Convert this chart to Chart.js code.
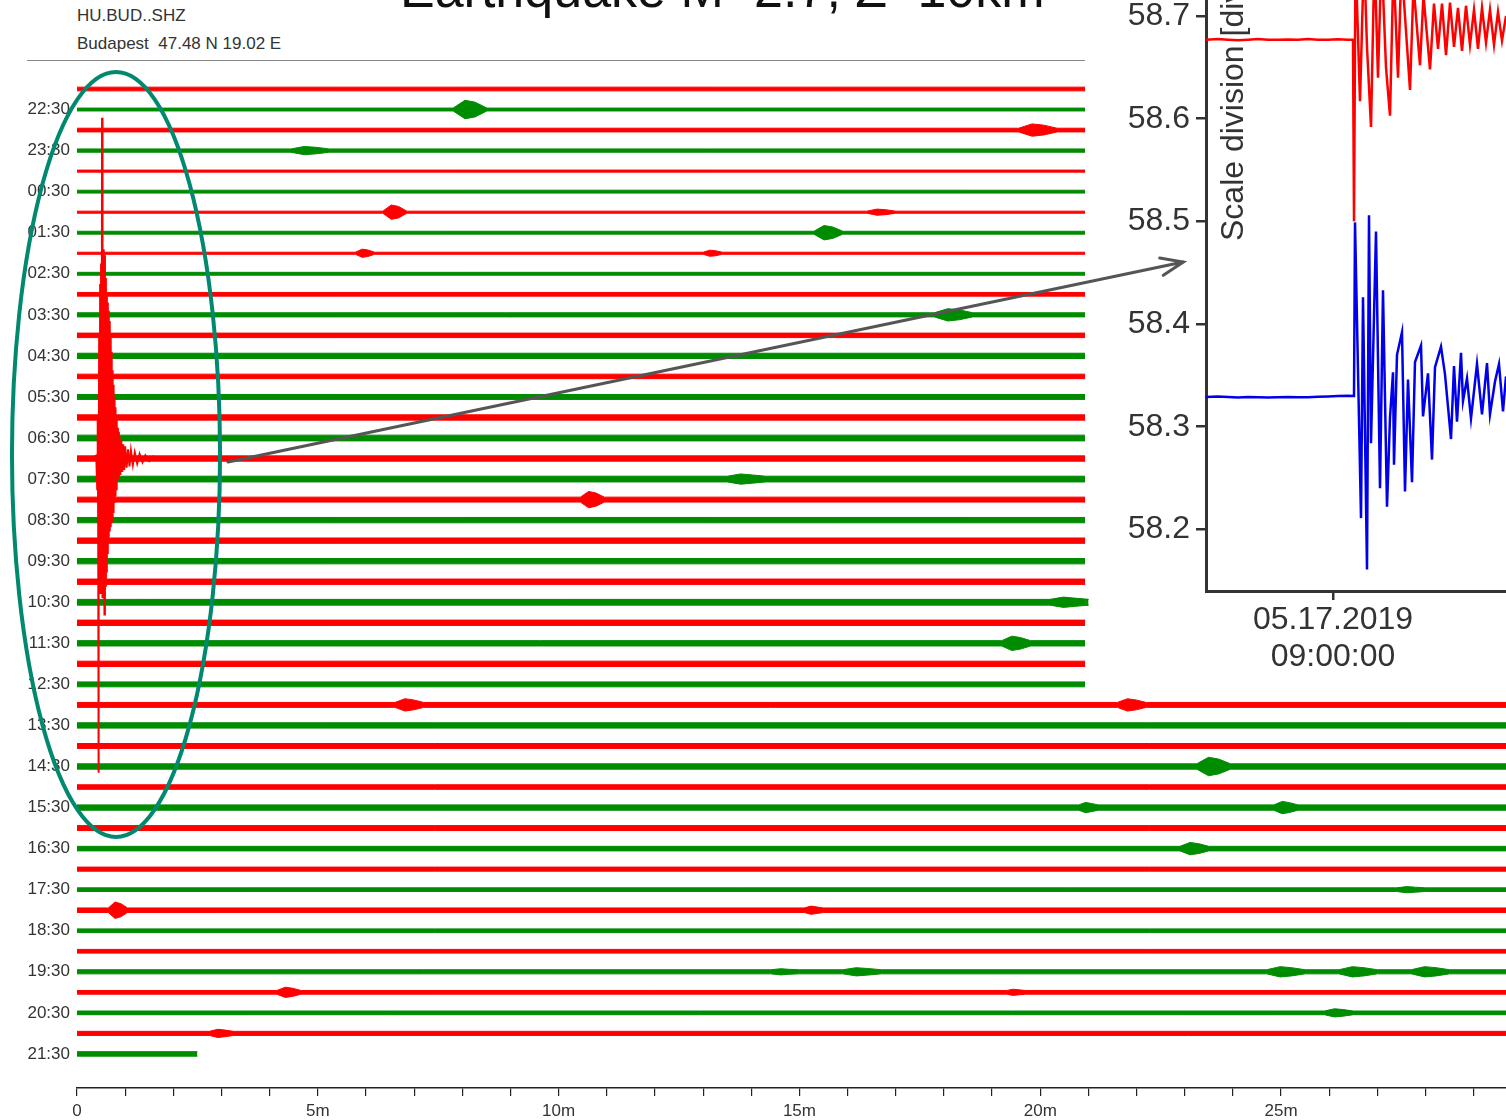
<!DOCTYPE html>
<html>
<head>
<meta charset="utf-8">
<script src="https://cdn.jsdelivr.net/npm/chart.js@4.4.1/dist/chart.umd.min.js"></script>
<style>
  body { margin: 0; background: #fff; width: 1506px; height: 1120px; overflow: hidden; position: relative;
         font-family: "Liberation Sans", Arial, sans-serif; }
  canvas { position: absolute; }
  #heli { left: 0; top: 0; }
  #inset { left: 1100px; top: 0; }
  .title { position: absolute; left: 400px; top: -37px; font-size: 52px; line-height: 52px; color: #111; white-space: nowrap; }
  .hdr { position: absolute; left: 77px; font-size: 17px; line-height: 17px; color: #333; white-space: nowrap; }
  .rule { position: absolute; left: 27px; top: 60px; width: 1058px; height: 1px; background: #888; }
  .ytitle { position: absolute; left: 1213px; top: 241px; font-size: 32px; line-height: 38px; color: #333;
            white-space: nowrap; transform-origin: 0 0; transform: rotate(-90deg); }
</style>
</head>
<body>
<div class="title">Earthquake M=2.7, Z=10km</div>
<div class="hdr" style="top:7px">HU.BUD..SHZ</div>
<div class="hdr" style="top:35px">Budapest&nbsp; 47.48 N 19.02 E</div>
<div class="rule"></div>
<canvas id="heli" width="1506" height="1120"></canvas>
<canvas id="inset" width="406" height="690"></canvas>
<div class="ytitle">Scale division [div]</div>
<script>
// helicorder: one row per 30 minutes, labels on the half-hour rows
const hourLabels = ['22:30','23:30','00:30','01:30','02:30','03:30','04:30','05:30','06:30','07:30','08:30','09:30',
                    '10:30','11:30','12:30','13:30','14:30','15:30','16:30','17:30','18:30','19:30','20:30','21:30'];
const minuteTicks = [0,1,2,3,4,5,6,7,8,9,10,11,12,13,14,15,16,17,18,19,20,21,22,23,24,25,26,27,28,29];
const minuteLabels = ['0','5m','10m','15m','20m','25m'];

// background noise amplitude of each row (in row units)
const rowNoise = [0.09,0.07,0.09,0.08,0.05,0.07,0.05,0.07,0.05,0.07,0.09,0.10,
                  0.11,0.13,0.11,0.12,0.13,0.14,0.13,0.14,0.12,0.13,0.13,0.13,
                  0.13,0.14,0.13,0.13,0.13,0.12,0.12,0.13,0.12,0.13,0.11,0.13,
                  0.12,0.11,0.10,0.09,0.11,0.09,0.09,0.10,0.09,0.09,0.10,0.11];

// small local events: [row, centre minute, half duration, amplitude]
const events = [
  [1,8.16,0.35,0.45],[2,19.95,0.4,0.3],[3,4.84,0.4,0.2],[6,6.6,0.25,0.35],[6,16.7,0.3,0.15],
  [7,15.6,0.3,0.35],[8,5.98,0.2,0.2],[8,13.2,0.2,0.15],[11,18.2,0.4,0.3],[19,13.9,0.4,0.25],
  [20,10.7,0.25,0.4],[25,20.6,0.4,0.25],[27,19.5,0.3,0.35],[30,6.9,0.3,0.3],[30,21.9,0.3,0.3],
  [33,23.6,0.35,0.45],[35,21.0,0.2,0.25],[35,25.1,0.25,0.3],[37,23.2,0.3,0.3],[39,27.7,0.3,0.15],
  [40,0.85,0.2,0.4],[40,15.3,0.2,0.2],[43,14.7,0.3,0.15],[43,16.3,0.4,0.2],[43,25.1,0.4,0.25],
  [43,26.6,0.4,0.25],[43,28.1,0.4,0.25],[44,4.4,0.25,0.25],[44,19.5,0.2,0.15],[45,26.2,0.3,0.2],
  [46,3.0,0.25,0.2]
];

// the earthquake on the 07:00 row: [minute, deflection in rows]
const quakeRow = 18;
const quakeTrace = [
  [0.30,0],[0.40,0.15],[0.42,-1.5],[0.43,2.0],[0.44,-3.3],[0.446,-15.3],[0.452,-3.0],[0.46,6.0],[0.47,-4.5],
  [0.48,8.5],[0.49,-6.6],[0.50,9.5],[0.51,-6.2],[0.52,16.6],[0.53,-6.8],[0.54,10.2],[0.55,-6.4],[0.56,9.8],
  [0.57,-7.6],[0.58,9.9],[0.59,-6.2],[0.60,8.8],[0.61,-5.5],[0.62,8.0],[0.63,-4.6],[0.64,7.6],[0.65,-3.8],
  [0.66,7.2],[0.67,-3.5],[0.68,6.7],[0.69,-3.3],[0.70,6.0],[0.71,-3.1],[0.72,5.2],[0.73,-3.0],[0.74,4.3],
  [0.75,-2.6],[0.76,3.6],[0.77,-2.1],[0.78,3.0],[0.79,-1.8],[0.80,2.5],[0.81,-1.5],[0.82,1.9],[0.83,-1.2],
  [0.84,1.5],[0.85,-1.0],[0.86,1.3],[0.87,-0.9],[0.88,1.1],[0.90,-0.8],[0.92,0.9],[0.94,-0.65],[0.96,0.7],
  [0.98,-0.55],[1.00,0.6],[1.03,-0.45],[1.06,0.45],[1.09,-0.38],[1.12,0.38],[1.16,-0.3],[1.20,0.3],
  [1.25,-0.24],[1.30,0.22],[1.36,-0.18],[1.42,0.16],[1.50,-0.12],[1.58,0.1],[1.68,0]
];

// trace extents (minutes)
const coveredRows = 30;      // rows hidden behind the inset on the right
const insetEdge = 20.93;
const lastRowEnd = 2.5;
const fullEnd = 30;

// inset: seconds around 09:00:00, scale divisions
const insetTimeTicks = [0];
const insetTimeLabel = ['05.17.2019', '09:00:00'];
const insetValueTicks = [58.2, 58.3, 58.4, 58.5, 58.6, 58.7];
const redTrace = [
  [-25.4,58.677],[-23,58.6775],[-21,58.677],[-19,58.6765],[-17,58.677],[-15,58.6775],[-13,58.677],[-11,58.6768],
  [-9,58.6772],[-7,58.677],[-5,58.6775],[-3,58.6768],[-1,58.677],[1,58.6773],[3,58.677],[4.0,58.677],
  [4.2,58.500],[4.5,58.76],[5.4,58.617],[6.2,58.76],[6.8,58.67],
  [7.6,58.592],[8.3,58.76],[9.0,58.64],[9.7,58.76],[10.6,58.65],[11.4,58.603],[12.1,58.75],[13.0,58.64],
  [13.7,58.75],[15.4,58.628],[16.1,58.73],[17.4,58.652],[18.1,58.72],[19.4,58.648],[20.2,58.712],[21.0,58.668],
  [21.8,58.712],[22.6,58.662],[23.4,58.713],[24.2,58.67],[25.0,58.708],[25.8,58.666],[26.6,58.71],[27.4,58.672],
  [28.2,58.706],[29.0,58.668],[29.8,58.708],[30.6,58.674],[31.4,58.706],[32.2,58.672],[33.0,58.704],[33.8,58.676],
  [34.6,58.70]
];
const blueTrace = [
  [-25.4,58.329],[-23,58.3295],[-21,58.329],[-19,58.3285],[-17,58.329],[-15,58.3288],[-13,58.3284],[-11,58.3288],
  [-9,58.329],[-7,58.3286],[-5,58.3288],[-3,58.3292],[-1,58.3295],[1,58.3298],[3,58.3302],[4.2,58.330],
  [4.4,58.499],[5.6,58.211],[6.0,58.426],[6.8,58.161],[7.2,58.506],
  [7.6,58.284],[8.6,58.490],[9.4,58.240],[10.0,58.433],[10.8,58.222],[11.4,58.309],[12.0,58.353],[12.2,58.263],
  [12.8,58.370],[13.8,58.392],[14.4,58.237],[15.0,58.346],[15.8,58.246],[16.4,58.363],[17.6,58.379],[18.0,58.310],
  [19.0,58.352],[19.8,58.268],[20.4,58.358],[21.6,58.378],[22.4,58.351],[23.6,58.288],[24.2,58.359],[24.8,58.305],
  [25.6,58.372],[26.0,58.325],[26.8,58.347],[27.6,58.308],[28.8,58.361],[29.8,58.312],[30.8,58.362],[31.4,58.312],
  [32.4,58.344],[33.2,58.361],[34.0,58.315],[34.6,58.349]
];

const FONT = '"Liberation Sans", Arial, sans-serif';
const RED = 'rgb(255,0,0)';
const GREEN = 'rgb(0,140,0)';
Chart.defaults.font.family = FONT;

const rowCount = hourLabels.length * 2;

function rowEnd(r) {
  if (r === rowCount - 1) return lastRowEnd;
  return r < coveredRows ? insetEdge : fullEnd;
}

// upper and lower edge of each row's noise band, events widen it
const heliSets = [];
for (let r = 0; r < rowCount; r++) {
  const a = rowNoise[r];
  const pts = [{ x: 0, o: a }];
  events.filter(e => e[0] === r).sort((p, q) => p[1] - q[1]).forEach(([, c, w, amp]) => {
    pts.push({ x: c - w, o: a }, { x: c - 0.3 * w, o: amp }, { x: c + 0.3 * w, o: amp * 0.8 }, { x: c + w, o: a });
  });
  pts.push({ x: rowEnd(r), o: a });
  const col = r % 2 ? GREEN : RED;
  heliSets.push({
    data: pts.map(p => ({ x: p.x, y: r - p.o })),
    borderColor: col, borderWidth: 1, pointRadius: 0, fill: false
  });
  heliSets.push({
    data: pts.map(p => ({ x: p.x, y: r + p.o })),
    borderColor: col, backgroundColor: col, borderWidth: 1, pointRadius: 0, fill: '-1'
  });
}
heliSets.push({
  data: quakeTrace.map(([m, o]) => ({ x: m, y: quakeRow - o })),
  borderColor: RED, borderWidth: 2, pointRadius: 0, fill: false, order: -1
});

// ellipse round the quake and arrow to the inset, in data units of the helicorder
const overlay = {
  id: 'overlay',
  afterDatasetsDraw(chart) {
    const { ctx, scales: { x, y } } = chart;
    ctx.save();
    const cx = x.getPixelForValue(0.81), cy = y.getPixelForValue(17.8);
    const rx = x.getPixelForValue(0.81 + 2.16) - cx;
    const ry = y.getPixelForValue(17.8 + 18.63) - cy;
    ctx.strokeStyle = '#00896f';
    ctx.lineWidth = 4;
    ctx.beginPath();
    ctx.ellipse(cx, cy, rx, ry, 0, 0, Math.PI * 2);
    ctx.stroke();

    const x0 = x.getPixelForValue(3.135), y0 = y.getPixelForValue(18.17);
    const x1 = x.getPixelForValue(22.97), y1 = y.getPixelForValue(8.43);
    const ang = Math.atan2(y1 - y0, x1 - x0);
    ctx.strokeStyle = '#555';
    ctx.lineWidth = 3;
    ctx.lineCap = 'round';
    ctx.beginPath();
    ctx.moveTo(x0, y0);
    ctx.lineTo(x1, y1);
    ctx.moveTo(x1 - 24 * Math.cos(ang - 0.38), y1 - 24 * Math.sin(ang - 0.38));
    ctx.lineTo(x1, y1);
    ctx.lineTo(x1 - 24 * Math.cos(ang + 0.38), y1 - 24 * Math.sin(ang + 0.38));
    ctx.stroke();
    ctx.restore();
  }
};

new Chart(document.getElementById('heli'), {
  type: 'line',
  data: { datasets: heliSets },
  options: {
    responsive: false,
    animation: false,
    events: [],
    layout: { padding: { top: 60, left: 0, right: 0, bottom: 0 } },
    plugins: { legend: { display: false }, tooltip: { enabled: false } },
    scales: {
      x: {
        type: 'linear', min: 0, max: 29.67,
        afterBuildTicks: s => { s.ticks = minuteTicks.map(v => ({ value: v })); },
        afterFit: s => { s.height = 32; s.paddingLeft = 0; s.paddingRight = 0; },
        ticks: {
          autoSkip: false, maxRotation: 0, padding: 5, color: '#333', font: { size: 17 },
          callback: v => (v % 5 === 0 ? minuteLabels[v / 5] : '')
        },
        grid: { drawOnChartArea: false, tickLength: 8, color: '#222', lineWidth: 1.2 },
        border: { display: true, color: '#222', width: 1.5 }
      },
      y: {
        type: 'linear', reverse: true, min: -1.4125, max: 48.66,
        afterBuildTicks: s => { s.ticks = hourLabels.map((_, i) => ({ value: 2 * i + 1 })); },
        afterFit: s => { s.width = 77; s.paddingTop = 0; s.paddingBottom = 0; },
        ticks: {
          autoSkip: false, padding: 7, color: '#333', font: { size: 17 },
          callback: (v, i) => hourLabels[i]
        },
        grid: { display: false, drawTicks: false },
        border: { display: false }
      }
    }
  },
  plugins: [overlay]
});

new Chart(document.getElementById('inset'), {
  type: 'line',
  data: {
    datasets: [
      { data: redTrace.map(([s, v]) => ({ x: s, y: v })), borderColor: 'rgb(255,0,0)', borderWidth: 2.5, pointRadius: 0 },
      { data: blueTrace.map(([s, v]) => ({ x: s, y: v })), borderColor: 'rgb(0,0,235)', borderWidth: 2.5, pointRadius: 0 }
    ]
  },
  options: {
    responsive: false,
    animation: false,
    events: [],
    layout: { padding: 0 },
    plugins: { legend: { display: false }, tooltip: { enabled: false } },
    scales: {
      x: {
        type: 'linear', min: -25.4, max: 34.6,
        afterBuildTicks: s => { s.ticks = insetTimeTicks.map(v => ({ value: v })); },
        afterFit: s => { s.height = 99; s.paddingLeft = 0; s.paddingRight = 0; },
        ticks: { maxRotation: 0, padding: 1, color: '#333', font: { size: 32, lineHeight: 1.18 }, callback: () => insetTimeLabel },
        grid: { drawOnChartArea: false, tickLength: 9, color: '#333', lineWidth: 2.5 },
        border: { display: true, color: '#333', width: 3 }
      },
      y: {
        type: 'linear', min: 58.14, max: 58.7156,
        afterBuildTicks: s => { s.ticks = insetValueTicks.map(v => ({ value: v })); },
        afterFit: s => { s.width = 106; s.paddingTop = 0; s.paddingBottom = 0; },
        ticks: { padding: 6, color: '#333', font: { size: 32 }, callback: v => v.toFixed(1) },
        grid: { drawOnChartArea: false, tickLength: 10, color: '#333', lineWidth: 2.5 },
        border: { display: true, color: '#333', width: 3 }
      }
    }
  }
});
</script>
</body>
</html>
